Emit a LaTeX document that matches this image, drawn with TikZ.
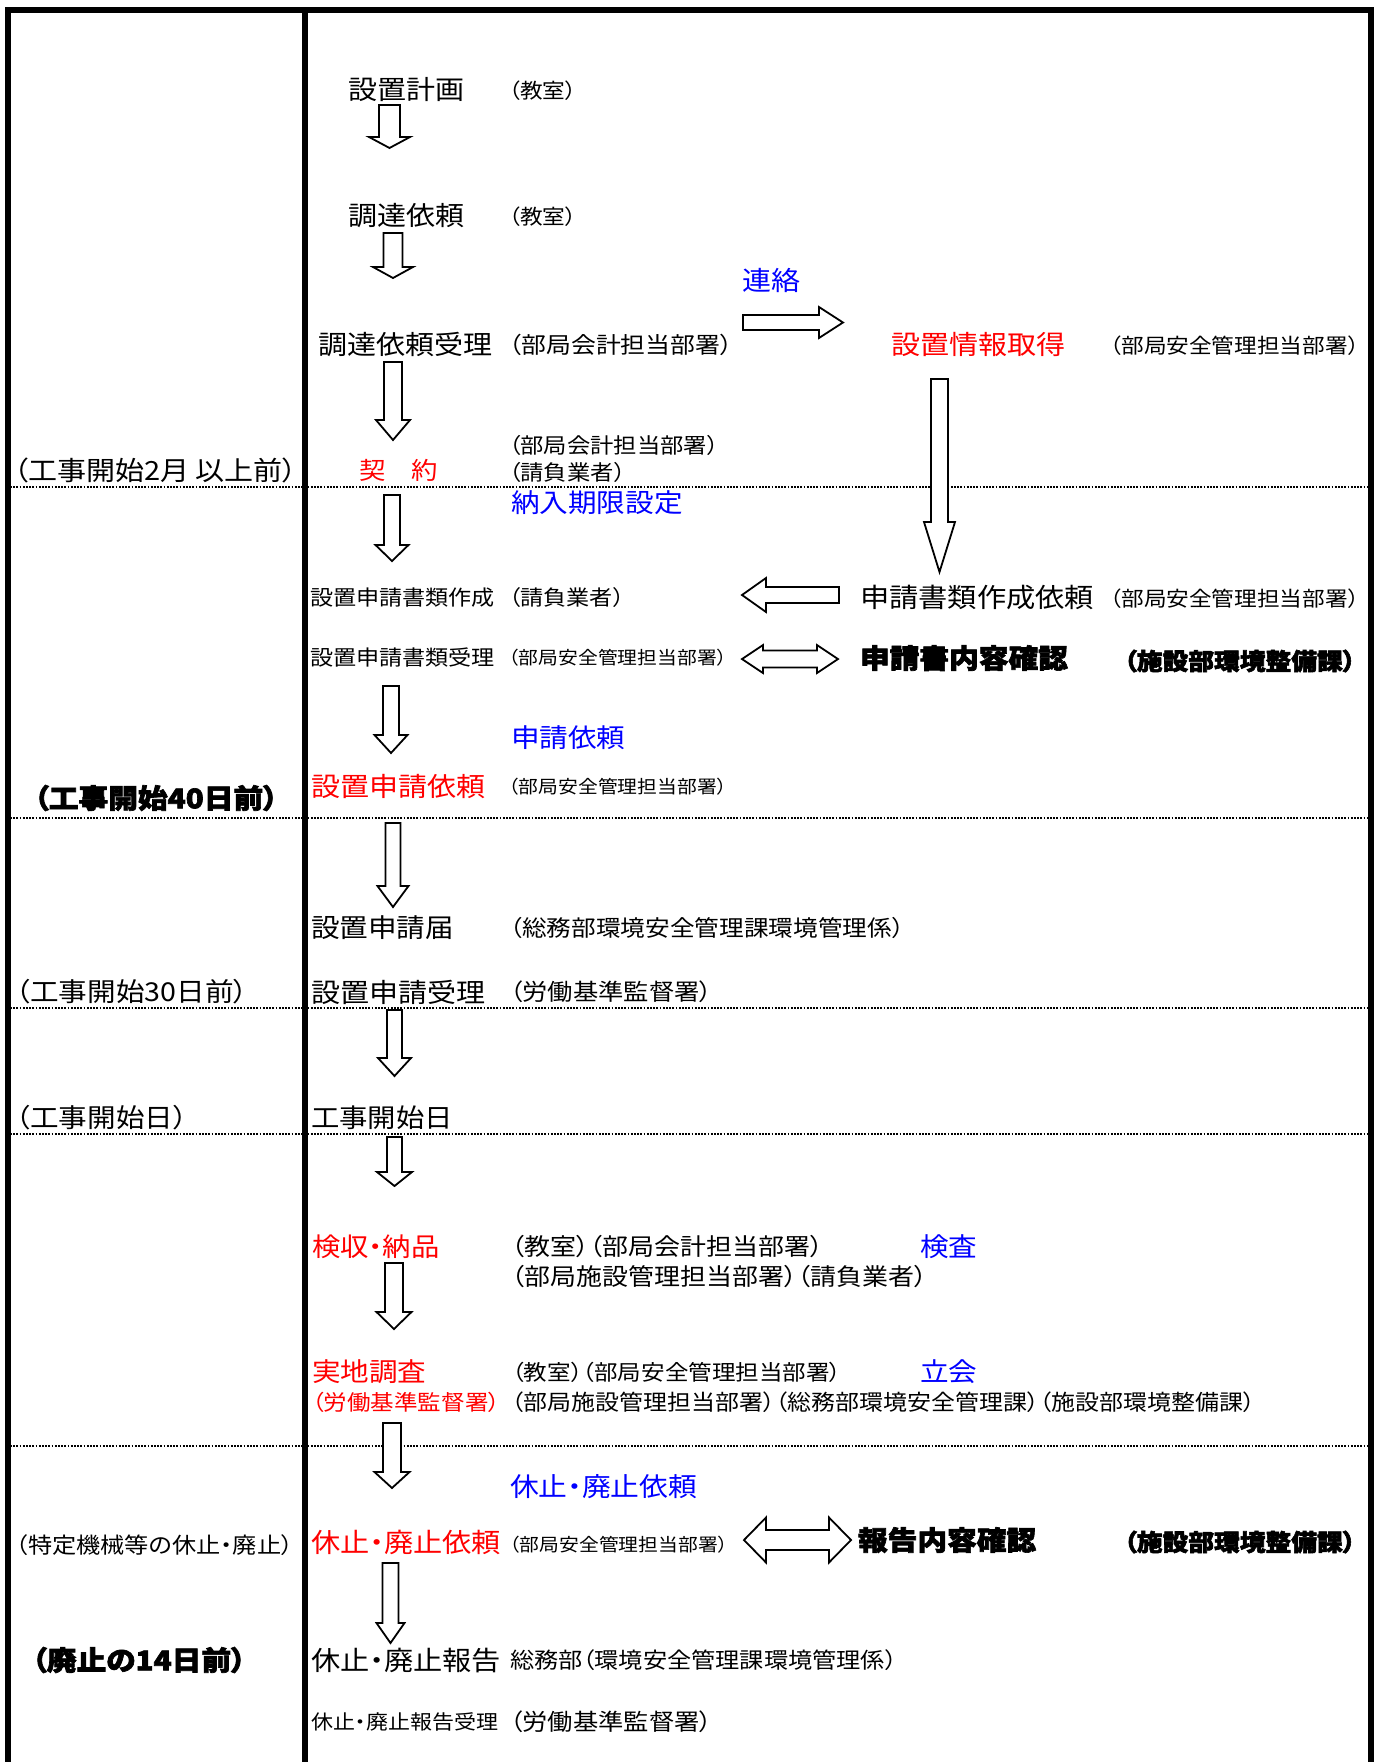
\documentclass[tikz,border=0pt]{standalone}
\usepackage{fontspec}
\setmainfont{Noto Sans CJK JP}[RawFeature=+palt, FakeStretch=1.1, BoldFeatures={FakeBold=2.5}]
\usetikzlibrary{calc}
\definecolor{jred}{RGB}{255,0,0}
\definecolor{jblue}{RGB}{0,0,255}
\newcommand{\fs}[1]{\fontsize{#1}{#1}\selectfont}
\newcommand{\downblk}[5]{%
  \draw[blockarrow] let \p1=(#1), \p2=(#2) in
    ({\x1-(#3)*0.5pt},\y1) -- ({\x1+(#3)*0.5pt},\y1) -- ({\x1+(#3)*0.5pt},{\y2+(#5)*0.5pt})
    -- ({\x1+(#4)*0.5pt},{\y2+(#5)*0.5pt}) -- (\x1,\y2) -- ({\x1-(#4)*0.5pt},{\y2+(#5)*0.5pt})
    -- ({\x1-(#3)*0.5pt},{\y2+(#5)*0.5pt}) -- cycle;}
\newcommand{\hblk}[5]{%
  \draw[blockarrow] let \p1=(#1), \p2=(#2) in
    (\x1,{\y1+(#3)*0.5pt}) -- ({\x2-(#5)*0.5pt},{\y1+(#3)*0.5pt}) -- ({\x2-(#5)*0.5pt},{\y1+(#4)*0.5pt})
    -- (\x2,\y1) -- ({\x2-(#5)*0.5pt},{\y1-(#4)*0.5pt}) -- ({\x2-(#5)*0.5pt},{\y1-(#3)*0.5pt})
    -- (\x1,{\y1-(#3)*0.5pt}) -- cycle;}
\newcommand{\dblk}[5]{%
  \draw[blockarrow] let \p1=(#1), \p2=(#2) in
    (\x1,\y1) -- ({\x1+(#5)*0.5pt},{\y1+(#4)*0.5pt}) -- ({\x1+(#5)*0.5pt},{\y1+(#3)*0.5pt})
    -- ({\x2-(#5)*0.5pt},{\y1+(#3)*0.5pt}) -- ({\x2-(#5)*0.5pt},{\y1+(#4)*0.5pt}) -- (\x2,\y1)
    -- ({\x2-(#5)*0.5pt},{\y1-(#4)*0.5pt}) -- ({\x2-(#5)*0.5pt},{\y1-(#3)*0.5pt})
    -- ({\x1+(#5)*0.5pt},{\y1-(#3)*0.5pt}) -- ({\x1+(#5)*0.5pt},{\y1-(#4)*0.5pt}) -- cycle;}
\begin{document}
\begin{tikzpicture}[x=0.5pt,y=-0.5pt,
  txt/.style={anchor=west,inner sep=0pt,outer sep=0pt},
  fbig/.style={txt,font=\fs{13.2}},
  fmid/.style={txt,font=\fs{11.5}},
  fsml/.style={txt,font=\fs{10.5}},
  ftny/.style={txt,font=\fs{9}},
  heavy/.style={txt,font=\fs{13.5}\bfseries},
  red/.style={text=jred},
  blue/.style={text=jblue},
  blockarrow/.style={draw=black,fill=white,line width=0.9pt,line join=miter},
  sepline/.style={line width=1.4pt,dash pattern=on 0.9pt off 0.7pt},
  frame/.style={line width=3pt,line join=miter}]
\useasboundingbox (0,0) rectangle (1380,1762);
\fill[white] (0,0) rectangle (1380,1762);
% dotted separators
\foreach \yy in {487,818,1008,1134,1446}
  \draw[sepline] (10,\yy) -- (1368,\yy);
% frame
\draw[frame] (7.5,1762) -- (7.5,10) -- (1371,10) -- (1371,1762);
\draw[line width=2.75pt] (305,10) -- (305,1762);

% left column
\node[fbig] (l1) at (13.5,470) {（工事開始2月 以上前）};
\node[heavy] (l2) at (34,798) {（工事開始40日前）};
\node[fbig,font=\fs{13}] (l3) at (16,992) {（工事開始30日前）};
\node[fbig,font=\fs{13}] (l4) at (16,1118) {（工事開始日）};
\node[fmid,font=\fs{11}] (l5) at (16,1545) {（特定機械等の休止・廃止）};
\node[heavy] (l6) at (32,1660) {（廃止の14日前）};

% main column
\node[fbig] (m1) at (348,90) {設置計画};
\node[fsml,font=\fs{10.3}] (m1b) at (509,91) {（教室）};
\node[fbig] (m2) at (348,216) {調達依頼};
\node[fsml,font=\fs{10.3}] (m2b) at (509,217) {（教室）};
\node[fbig] (m3) at (318,344) {調達依頼受理};
\node[fmid,font=\fs{11.3}] (m3b) at (509,345) {（部局会計担当部署）};
\node[fbig,red,font=\fs{12}] (m4) at (359,470) {契　約};
\node[fsml,font=\fs{10.6}] (m4b) at (509,445) {（部局会計担当部署）};
\node[fsml,font=\fs{10.6}] (m4c) at (509,472) {（請負業者）};
\node[fbig,blue,font=\fs{13}] (m5) at (511,503) {納入期限設定};
\node[fsml] (m6) at (310,598) {設置申請書類作成};
\node[fsml] (m6b) at (509,598) {（請負業者）};
\node[fsml] (m7) at (310,658) {設置申請書類受理};
\node[ftny] (m7b) at (509,658) {（部局安全管理担当部署）};
\node[fbig,blue,font=\fs{13}] (m8) at (511,738) {申請依頼};
\node[fbig,red] (m9) at (311,787) {設置申請依頼};
\node[ftny] (m9b) at (509,787) {（部局安全管理担当部署）};
\node[fbig,font=\fs{13}] (m10) at (311,928) {設置申請届};
\node[fmid,font=\fs{11.2}] (m10b) at (510,928) {（総務部環境安全管理課環境管理係）};
\node[fbig] (m11) at (311,992) {設置申請受理};
\node[fmid,font=\fs{11.5}] (m11b) at (510,992) {（労働基準監督署）};
\node[fbig,font=\fs{12.9}] (m12) at (311,1118) {工事開始日};
\node[fbig,red,font=\fs{12.9}] (m13) at (312,1247) {検収・納品};
\node[fmid,font=\fs{11.8}] (m13b) at (512,1247) {（教室）（部局会計担当部署）};
\node[fbig,blue,font=\fs{13}] (m13c) at (920,1247) {検査};
\node[fmid,font=\fs{11.8}] (m13d) at (512,1277) {（部局施設管理担当部署）（請負業者）};
\node[fbig,red,font=\fs{13}] (m14) at (312,1372) {実地調査};
\node[fmid,font=\fs{10.7}] (m14b) at (512,1372) {（教室）（部局安全管理担当部署）};
\node[fbig,blue,font=\fs{13}] (m14c) at (920,1372) {立会};
\node[fmid,red,font=\fs{10.7}] (m14d) at (312,1402) {（労働基準監督署）};
\node[fmid,font=\fs{10.9}] (m14e) at (512,1402) {（部局施設管理担当部署）（総務部環境安全管理課）（施設部環境整備課）};
\node[fbig,blue,font=\fs{13.1}] (m15) at (510,1487) {休止・廃止依頼};
\node[fbig,red,font=\fs{13.3}] (m16) at (311,1542) {休止・廃止依頼};
\node[ftny] (m16b) at (510,1545) {（部局安全管理担当部署）};
\node[heavy] (m16c) at (858,1540) {報告内容確認};
\node[heavy,font=\fs{11.7}\bfseries] (m16d) at (1124,1542) {（施設部環境整備課）};
\node[fbig,font=\fs{13.3}] (m17) at (311,1660) {休止・廃止報告};
\node[fmid,font=\fs{11}] (m17b) at (510,1660) {総務部（環境安全管理課環境管理係）};
\node[fsml,font=\fs{10}] (m18) at (311,1722) {休止・廃止報告受理};
\node[fmid,font=\fs{11.5}] (m18b) at (510,1722) {（労働基準監督署）};

% right side
\node[fbig,blue] (r1) at (742,280) {連絡};
\node[fbig,red] (r2) at (891,344) {設置情報取得};
\node[fsml,font=\fs{10.3}] (r2b) at (1110,346) {（部局安全管理担当部署）};
\node[fbig,font=\fs{13.3}] (r3) at (860,597) {申請書類作成依頼};
\node[fsml,font=\fs{10.3}] (r3b) at (1110,599) {（部局安全管理担当部署）};
\node[heavy] (r4) at (860,658) {申請書内容確認};
\node[heavy,font=\fs{11.7}\bfseries] (r4b) at (1124,661) {（施設部環境整備課）};

% arrow end points
\coordinate (a1s) at (389.5,105);  \coordinate (a1e) at (389.5,148);
\coordinate (a2s) at (393,233);    \coordinate (a2e) at (393,278);
\coordinate (a3s) at (393,362);    \coordinate (a3e) at (393,440);
\coordinate (a4s) at (392,495);    \coordinate (a4e) at (392,561);
\coordinate (a5s) at (391,686);    \coordinate (a5e) at (391,753);
\coordinate (a6s) at (393,823);    \coordinate (a6e) at (393,907);
\coordinate (a7s) at (394.5,1010); \coordinate (a7e) at (394.5,1076);
\coordinate (a8s) at (394.5,1137); \coordinate (a8e) at (394.5,1186);
\coordinate (a9s) at (394,1263);   \coordinate (a9e) at (394,1329);
\coordinate (a10s) at (392,1423);  \coordinate (a10e) at (392,1488);
\coordinate (a11s) at (390.5,1563); \coordinate (a11e) at (390.5,1643);
\coordinate (als) at (939.5,379);  \coordinate (ale) at (939.5,572);
\coordinate (h1s) at (743,322.5);  \coordinate (h1e) at (843,322.5);
\coordinate (h2s) at (839,595);    \coordinate (h2e) at (742,595);
\coordinate (d1s) at (742,659);    \coordinate (d1e) at (838,659);
\coordinate (d2s) at (744,1540);   \coordinate (d2e) at (851,1540);

\downblk{a1s}{a1e}{10.5}{20.5}{11}
\downblk{a2s}{a2e}{9.5}{20}{11}
\downblk{a3s}{a3e}{9}{17}{20}
\downblk{a4s}{a4e}{8}{16.5}{16}
\downblk{a5s}{a5e}{8}{16.5}{18}
\downblk{a6s}{a6e}{7.5}{15.5}{21}
\downblk{a7s}{a7e}{7.5}{16.5}{18}
\downblk{a8s}{a8e}{7.5}{17.5}{14}
\downblk{a9s}{a9e}{9}{17.5}{17}
\downblk{a10s}{a10e}{9}{17.5}{16}
\downblk{a11s}{a11e}{8}{14}{20}
\downblk{als}{ale}{8.5}{15.5}{50}
\hblk{h1s}{h1e}{7.5}{15.5}{24}
\hblk{h2s}{h2e}{8}{17}{-24}
\dblk{d1s}{d1e}{8.5}{14}{21}
\dblk{d2s}{d2e}{10}{22.5}{22}
\end{tikzpicture}
\end{document}
